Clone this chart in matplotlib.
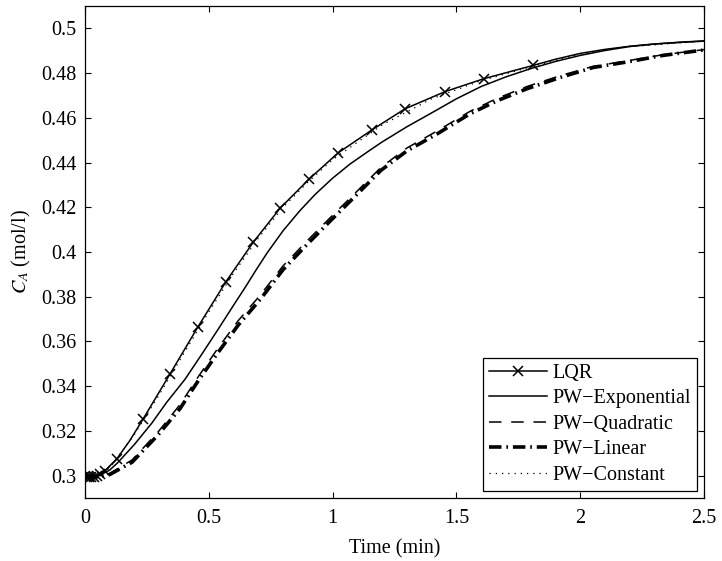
import matplotlib
matplotlib.use("Agg")
import matplotlib.pyplot as plt

plt.rcParams['font.family'] = ['Liberation Serif', 'DejaVu Serif']
plt.rcParams['mathtext.fontset'] = 'stix'
plt.rcParams['lines.scale_dashes'] = False

# LQR (markers on solver points)
lqr_t = [0.0, 0.008, 0.016, 0.025, 0.035, 0.047, 0.062, 0.081, 0.129, 0.18, 0.234, 0.343, 0.456,
         0.569, 0.679, 0.788, 0.905, 1.022, 1.159, 1.292, 1.454, 1.611, 1.809,
         1.9, 2.0, 2.1, 2.2, 2.3, 2.4, 2.5]
lqr_c = [0.3000, 0.2996, 0.2994, 0.2994, 0.2996, 0.2999, 0.3007, 0.3022, 0.3076, 0.3155, 0.3252, 0.3454, 0.3665,
         0.3867, 0.4043, 0.4196, 0.4326, 0.4443, 0.4546, 0.4640, 0.4717, 0.4775, 0.4834,
         0.4862, 0.4888, 0.4906, 0.4920, 0.4930, 0.4938, 0.4944]
lqr_marks = [0, 1, 2, 3, 4, 5, 6, 7, 8, 10, 11, 12, 13, 14, 15, 16, 17, 18, 19, 20, 21, 22]

exp_t = [0.0, 0.05, 0.1, 0.134, 0.2, 0.27, 0.33, 0.404, 0.47, 0.538, 0.6, 0.646, 0.69, 0.735,
         0.8, 0.868, 0.93, 1.0, 1.07, 1.14, 1.2, 1.3, 1.4, 1.5, 1.6, 1.7, 1.8, 1.9, 2.0,
         2.1, 2.2, 2.3, 2.4, 2.5]
exp_c = [0.3000, 0.2996, 0.3025, 0.3060, 0.3140, 0.3235, 0.3328, 0.3431, 0.3540, 0.3655, 0.3762, 0.3840, 0.3918, 0.3995,
         0.4095, 0.4185, 0.4258, 0.4330, 0.4393, 0.4447, 0.4492, 0.4560, 0.4622, 0.4685, 0.4740, 0.4783, 0.4820, 0.4852, 0.4879,
         0.4901, 0.4919, 0.4930, 0.4937, 0.4943]

quad_t = [0.0, 0.05, 0.1, 0.19, 0.295, 0.384, 0.456, 0.537, 0.618, 0.707, 0.8, 0.897, 0.989,
          1.099, 1.195, 1.3, 1.422, 1.555, 1.664, 1.785, 1.918, 2.052, 2.201, 2.334, 2.5]
quad_c = [0.3000, 0.2996, 0.3010, 0.3070, 0.3195, 0.3318, 0.3440, 0.3570, 0.3692, 0.3806, 0.3938, 0.4050, 0.4152,
          0.4272, 0.4378, 0.4465, 0.4541, 0.4629, 0.4687, 0.4740, 0.4788, 0.4830, 0.4857, 0.4882, 0.4905]

lin_t = [0.0, 0.05, 0.1, 0.19, 0.295, 0.384, 0.456, 0.537, 0.618, 0.707, 0.8, 0.897, 0.989,
         1.099, 1.195, 1.3, 1.422, 1.555, 1.664, 1.785, 1.918, 2.052, 2.201, 2.334, 2.484, 2.5]
lin_c = [0.3000, 0.2993, 0.3005, 0.3060, 0.3182, 0.3300, 0.3422, 0.3550, 0.3672, 0.3787, 0.3921, 0.4034, 0.4137,
         0.4258, 0.4365, 0.4452, 0.4528, 0.4618, 0.4676, 0.4730, 0.4780, 0.4825, 0.4852, 0.4879, 0.4901, 0.4903]

const_t = [0.0, 0.05, 0.1, 0.2, 0.3, 0.4, 0.5, 0.6, 0.7, 0.8, 0.9, 1.0, 1.2, 1.4, 1.6, 1.8, 2.0, 2.2, 2.5]
const_c = [0.3000, 0.2996, 0.3035, 0.3185, 0.3362, 0.3548, 0.3732, 0.3905, 0.4062, 0.4200, 0.4312, 0.4413,
           0.4568, 0.4685, 0.4766, 0.4828, 0.4885, 0.4918, 0.4943]

labels = ['LQR', 'PW\u2212Exponential', 'PW\u2212Quadratic', 'PW\u2212Linear', 'PW\u2212Constant']
xticks = [0, 0.5, 1, 1.5, 2, 2.5]
xtick_labels = ['0', '0.5', '1', '1.5', '2', '2.5']
yticks = [0.3, 0.32, 0.34, 0.36, 0.38, 0.4, 0.42, 0.44, 0.46, 0.48, 0.5]
ytick_labels = ['0.3', '0.32', '0.34', '0.36', '0.38', '0.4', '0.42', '0.44', '0.46', '0.48', '0.5']

fig = plt.figure(figsize=(7.22, 5.61), dpi=100)
ax = fig.add_axes([85 / 722, 1 - 498 / 561, (704 - 85) / 722, (498 - 6) / 561])

ax.plot(lqr_t, lqr_c, color='k', lw=1.1, marker='x', markersize=7, mew=1.1,
        markevery=lqr_marks, label=labels[0])
ax.plot(exp_t, exp_c, color='k', lw=1.1, label=labels[1])
ax.plot(quad_t, quad_c, color='k', lw=1.1, dashes=(9, 7), label=labels[2])
ax.plot(lin_t, lin_c, color='k', lw=2.6, dashes=(9, 3.5, 1.2, 3.5), label=labels[3])
ax.plot(const_t, const_c, color='k', lw=0.9, dashes=(0.9, 3.6), label=labels[4])

ax.set_xlim(0, 2.5)
ax.set_ylim(0.29, 0.51)
ax.set_xticks(xticks)
ax.set_xticklabels(xtick_labels)
ax.set_yticks(yticks)
ax.set_yticklabels(ytick_labels)
ax.tick_params(direction='in', top=True, right=True, length=4.5, width=0.8,
               labelsize=14.5)
ax.tick_params(axis='x', pad=8)
ax.tick_params(axis='y', pad=6)
for s in ax.spines.values():
    s.set_linewidth(0.9)

ax.set_xlabel('Time (min)', fontsize=14.5, labelpad=8)
ax.set_ylabel(r'$C_A$ (mol/l)', fontsize=14.5, labelpad=6)

leg = ax.legend(loc='lower right', fontsize=14.5, frameon=True, fancybox=False,
                edgecolor='k', framealpha=1, handlelength=2.9, handletextpad=0.25,
                labelspacing=0.32, borderpad=0.3, borderaxespad=0.35, numpoints=1)
leg.get_frame().set_linewidth(0.9)

fig.savefig('out.png', dpi=100)
